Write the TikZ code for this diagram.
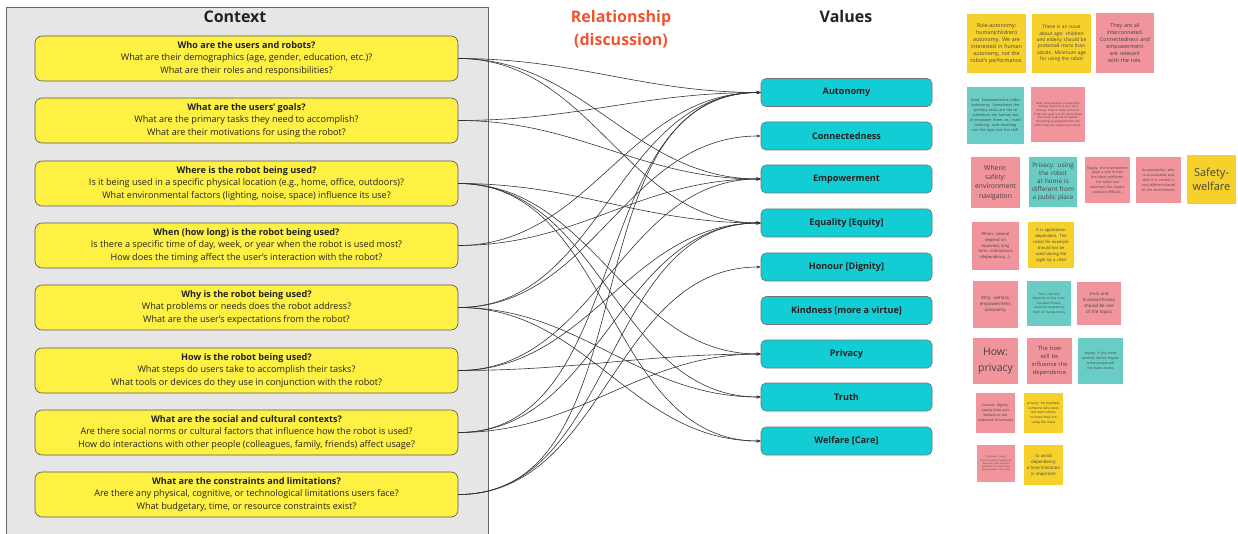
\documentclass[tikz,border=0pt]{standalone}
\usepackage{fontspec}
\setmainfont{Open Sans}
\usetikzlibrary{arrows.meta}
\definecolor{panelgray}{HTML}{E6E6E6}
\definecolor{ctxyellow}{HTML}{FFF143}
\definecolor{valteal}{HTML}{13CDD4}
\definecolor{stY}{HTML}{F6D12C}
\definecolor{stP}{HTML}{F1949C}
\definecolor{stT}{HTML}{6ACDC5}
\definecolor{relred}{HTML}{F2522E}
\definecolor{ink}{HTML}{222222}
\definecolor{wire}{HTML}{333333}
\hyphenpenalty=10000
\exhyphenpenalty=10000
\tikzset{
  ctx/.style={rectangle, rounded corners=7pt, fill=ctxyellow, draw=black!65, line width=0.6pt,
    minimum width=423pt, minimum height=45pt, inner sep=2pt, align=center, text=ink,
    font=\fontsize{9.1}{12.5}\selectfont},
  val/.style={rectangle, rounded corners=5pt, fill=valteal, draw=black!55, line width=0.6pt,
    minimum width=171pt, minimum height=28pt, inner sep=2pt, align=center, text=ink,
    font=\bfseries\fontsize{9.1}{10}\selectfont},
  ttl/.style={font=\bfseries\fontsize{16}{23}\selectfont, align=center, text=ink},
  wirestyle/.style={draw=wire, line width=0.6pt, -{Stealth[length=4pt,width=3pt]}},
  sticky/.style n args={3}{rectangle, minimum width=#1pt, minimum height=#2pt, text width=#3pt,
    inner sep=1pt, align=center, text=ink!85},
}
\begin{document}
\begin{tikzpicture}[x=1pt,y=-1pt]
\useasboundingbox (0,0) rectangle (1238,534);
% panel
\fill[panelgray] (6,7) rectangle (488,534);
\draw[black!60, line width=0.8pt] (6,534) -- (6,7) -- (488,7) -- (488,534);
\node[ttl] (tctx) at (235,17) {Context};
\node[ttl, text=relred] (trel) at (621,29) {Relationship\\(discussion)};
\node[ttl] (tval) at (846,17) {Values};

% context boxes
\node[ctx] (c1) at (246.5,58.5) {\textbf{Who are the users and robots?}\\What are their demographics (age, gender, education, etc.)?\\What are their roles and responsibilities?};
\node[ctx] (c2) at (246.5,120.5) {\textbf{What are the users' goals?}\\What are the primary tasks they need to accomplish?\\What are their motivations for using the robot?};
\node[ctx] (c3) at (246.5,183.5) {\textbf{Where is the robot being used?}\\Is it being used in a specific physical location (e.g., home, office, outdoors)?\\What environmental factors (lighting, noise, space) influence its use?};
\node[ctx] (c4) at (246.5,245.5) {\textbf{When (how long) is the robot being used?}\\Is there a specific time of day, week, or year when the robot is used most?\\How does the timing affect the user's interaction with the robot?};
\node[ctx] (c5) at (246.5,307.5) {\textbf{Why is the robot being used?}\\What problems or needs does the robot address?\\What are the user's expectations from the robot?};
\node[ctx] (c6) at (246.5,370.5) {\textbf{How is the robot being used?}\\What steps do users take to accomplish their tasks?\\What tools or devices do they use in conjunction with the robot?};
\node[ctx] (c7) at (246.5,432.5) {\textbf{What are the social and cultural contexts?}\\Are there social norms or cultural factors that influence how the robot is used?\\How do interactions with other people (colleagues, family, friends) affect usage?};
\node[ctx] (c8) at (246.5,494.5) {\textbf{What are the constraints and limitations?}\\Are there any physical, cognitive, or technological limitations users face?\\What budgetary, time, or resource constraints exist?};

% value boxes
\node[val] (aut) at (846.5,92.5) {Autonomy};
\node[val] (con) at (846.5,136) {Connectedness};
\node[val] (emp) at (846.5,179) {Empowerment};
\node[val] (equ) at (846.5,223) {Equality [Equity]};
\node[val] (hon) at (846.5,267) {Honour [Dignity]};
\node[val] (kin) at (846.5,310.5) {Kindness [more a virtue]};
\node[val] (pri) at (846.5,354) {Privacy};
\node[val] (tru) at (846.5,397) {Truth};
\node[val] (wel) at (846.5,441) {Welfare [Care]};

% connectors
\foreach \s/\t in {c1/aut,c1/emp,c1/equ,c2/aut,c2/emp,c3/equ,c3/pri,c3/tru,c3/wel,
  c4/aut,c4/emp,c5/aut,c5/con,c5/tru,c5/wel,c6/emp,c6/equ,c6/pri,c7/aut,c7/equ,c7/pri,
  c8/aut,c8/equ,c8/hon}
  \draw[wirestyle] (\s.east) to[out=0,in=180] (\t.west);

% sticky notes
\node[sticky={59}{59}{53}, fill=stY, font=\fontsize{5.3}{7}\selectfont] (s1) at (996.5,43.5) {Role-autonomy: human(children) autonomy. We are interested in human autonomy, not the robot's performance.};
\node[sticky={59}{59}{53}, fill=stY, font=\fontsize{4.8}{6.4}\selectfont] (s2) at (1061.5,43.5) {There is an issue about age: children and elderly should be protected more than adults. Minimum age for using the robot};
\node[sticky={58}{60}{52}, fill=stP, font=\fontsize{5.4}{7}\selectfont] (s3) at (1125,43) {They are all interconneted. Connectedness and empowerment are relevant with the role.};
\node[sticky={57}{57}{51}, fill=stT, font=\fontsize{3.8}{5}\selectfont] (s4) at (995.5,115.5) {Goal: Empowerment under autonomy. Sometimes the primary tasks are not to substitute the human but to empower them, ex. math learning: user teaching not the topic but the skill.};
\node[sticky={54}{55}{48}, fill=stP, font=\fontsize{2.8}{3.7}\selectfont] (s5) at (1058,114.5) {Goal: Both aspects of autonomy: making decisions in your best interest. Help to make decisions.\\If the user goal is to do more things than they could not do before.\\Something as empowerment, the robot helps you achieve your goals.};
\node[sticky={49}{51}{45}, fill=stP, font=\fontsize{6.8}{9.2}\selectfont] (s6) at (995.5,182.5) {Where: safety: environment navigation};
\node[sticky={48}{50}{45}, fill=stT, font=\fontsize{6.3}{8.2}\selectfont] (s7) at (1053,182) {Privacy: using the robot at home is different from a public place};
\node[sticky={45}{46}{41}, fill=stP, font=\fontsize{3.5}{4.9}\selectfont] (s8) at (1107.5,180) {Equity: the environment plays a role in how the robot performs, the robot can overheat, the repairs could be difficult...};
\node[sticky={45}{46}{41}, fill=stP, font=\fontsize{3.5}{4.9}\selectfont] (s9) at (1158.5,180) {Accountability: who is accountable and who is in control is very different based on the environment.};
\node[sticky={49}{49}{47}, fill=stY, font=\fontsize{11}{14}\selectfont] (s10) at (1211.5,179.5) {Safety-\\welfare};
\node[sticky={47}{48}{42}, fill=stP, font=\fontsize{4.1}{5.8}\selectfont] (s11) at (995.5,246) {When: several depend on repeated, long term, interactions (dependency...).};
\node[sticky={46}{46}{42}, fill=stY, font=\fontsize{4.1}{6}\selectfont] (s12) at (1051,245) {It is application dependent. The robot for example should not be used during the night by a child};
\node[sticky={45}{47}{41}, fill=stP, font=\fontsize{4.4}{6}\selectfont] (s13) at (995.5,304.5) {Why: welfare, empowerment, autonomy.};
\node[sticky={44}{45}{40}, fill=stT, font=\fontsize{3.2}{4.5}\selectfont] (s14) at (1049,303.5) {Trust, the why depends on the trust, trustworthiness, could be covered by truth or transparency};
\node[sticky={44}{43}{40}, fill=stP, font=\fontsize{4.4}{6}\selectfont] (s15) at (1099,303.5) {trust and trustworthiness should be one of the topics};
\node[sticky={45}{46}{43}, fill=stP, font=\fontsize{10.5}{16}\selectfont] (s16) at (995.5,361) {How:\\privacy};
\node[sticky={45}{46}{42}, fill=stP, font=\fontsize{5.8}{8.2}\selectfont] (s17) at (1049.5,361) {The how will be influence the dependence};
\node[sticky={45}{46}{41}, fill=stT, font=\fontsize{3.5}{5}\selectfont] (s18) at (1100.5,361) {equity: if you need another device maybe some people will not have access};
\node[sticky={39}{40}{36}, fill=stP, font=\fontsize{3.6}{5}\selectfont] (s19) at (995.5,413) {Culture- dignity, equity (how you behave or are expected to behave)};
\node[sticky={39}{40}{36}, fill=stY, font=\fontsize{3.3}{4.7}\selectfont] (s20) at (1043.5,413) {privacy: for example someone who does not want others to know they are using the robot};
\node[sticky={38}{37}{35}, fill=stP, font=\fontsize{2.2}{3}\selectfont] (s21) at (996,463.5) {limitations - equity\\[1.5pt]Concerns about transparency, deception, what cognitive limitations the older adults have, example is the robot};
\node[sticky={39}{40}{36}, fill=stY, font=\fontsize{4.3}{6}\selectfont] (s22) at (1043.5,465) {to avoid dependency a time limitation is important};
\end{tikzpicture}
\end{document}
